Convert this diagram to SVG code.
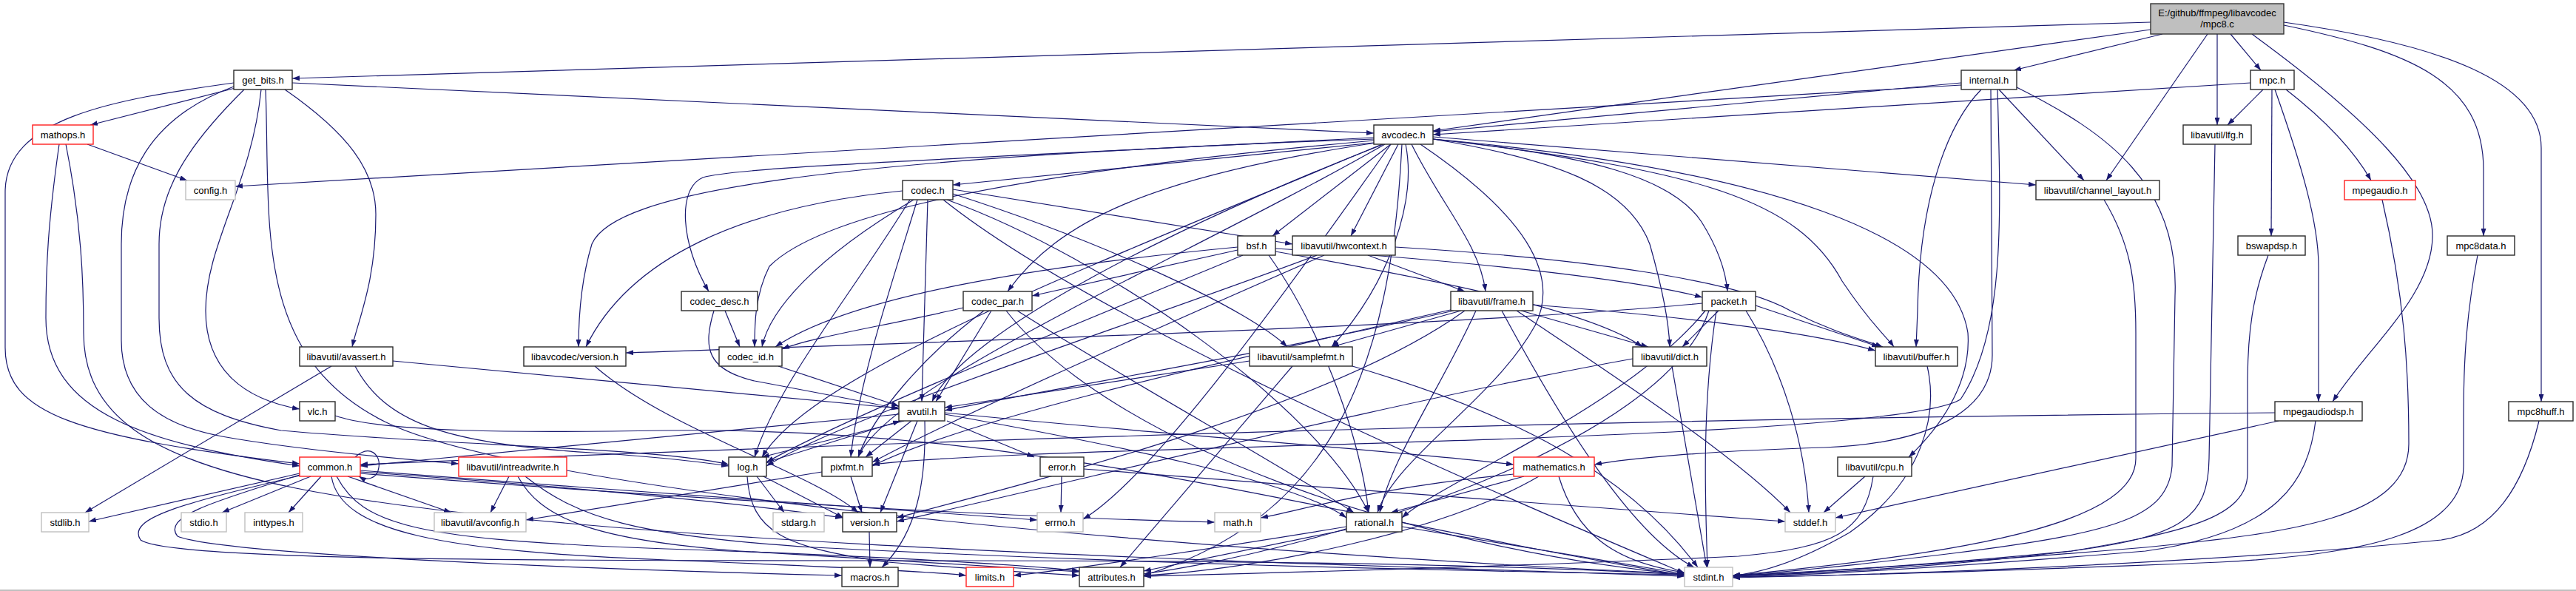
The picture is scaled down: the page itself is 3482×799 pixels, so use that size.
<svg xmlns="http://www.w3.org/2000/svg" width="3482" height="799" viewBox="0 0 3482 799">
<style>
.n rect{fill:#fff;stroke:#2a2a2a;stroke-width:1.4}
.g rect{stroke:#bfbfbf}
.r rect{stroke:#ff2020}
.top rect{fill:#bfbfbf;stroke:#333}
text{font-family:"Liberation Sans",Arial,sans-serif;font-size:13px;text-anchor:middle;fill:#000}
#edges path{fill:none;stroke:#191970;stroke-width:1.2;marker-end:url(#a)}
</style>
<defs>
<marker id="a" viewBox="0 0 10 7" markerWidth="10" markerHeight="7" refX="10" refY="3.5" orient="auto" markerUnits="userSpaceOnUse">
<path d="M0,0 L10,3.5 L0,7 z" fill="#191970"/>
</marker>
</defs>
<rect x="0" y="0" width="3482" height="799" fill="#fff"/>
<rect x="0" y="797" width="3482" height="2" fill="#c0c0c0"/>
<g id="edges">
<path d="M2907,30 L395,106"/>
<path d="M2907,40 L1937,177"/>
<path d="M2923,46 L2722,95"/>
<path d="M2984,46 L2847,244"/>
<path d="M2997,46 L2997,169"/>
<path d="M3015,46 L3056,95"/>
<path d="M3044,46 C3200,160 3290,250 3288,320 C3287,400 3200,470 3153,543"/>
<path d="M3087,34 C3260,70 3357,110 3357,230 L3357,319"/>
<path d="M3087,30 C3300,60 3435,110 3435,200 L3435,543"/>
<path d="M316,112 C150,135 7,160 7,260 L7,470 C7,560 100,590 405,627"/>
<path d="M318,119 L122,169"/>
<path d="M353,121 C340,250 278,330 278,420 C278,500 330,540 405,553"/>
<path d="M385,121 C470,180 508,230 508,290 C508,380 485,430 476,469"/>
<path d="M316,117 C200,160 164,240 164,330 L164,460 C164,540 220,575 300,590 C400,608 560,622 620,627"/>
<path d="M330,121 C250,200 215,260 215,330 L215,430 C215,520 260,560 380,582 C600,602 900,606 985,628"/>
<path d="M359,121 C366,300 340,480 520,570 C700,660 1500,740 2277,776"/>
<path d="M395,112 L1857,180"/>
<path d="M2651,112 L1937,178"/>
<path d="M2651,115 L318,252"/>
<path d="M2702,121 L2817,244"/>
<path d="M2678,121 C2640,160 2595,250 2592,420 L2590,469"/>
<path d="M2726,118 C2850,180 2946,250 2940,400 L2936,630 C2930,700 2860,720 2640,748 C2500,765 2400,775 2342,778"/>
<path d="M2691,121 L2693,480 C2693,560 2600,600 2466,605 C2300,610 2200,620 2155,628"/>
<path d="M2700,121 C2705,300 2710,450 2650,540 C2550,600 1400,600 1179,628"/>
<path d="M3042,112 L1937,182"/>
<path d="M3059,121 L3011,169"/>
<path d="M3071,121 L3070,319"/>
<path d="M3075,121 C3110,220 3134,300 3134,360 L3134,543"/>
<path d="M3090,121 C3140,160 3180,200 3205,244"/>
<path d="M118,195 L253,244"/>
<path d="M80,195 C65,300 62,360 62,430 C62,560 200,600 405,630"/>
<path d="M89,195 C110,300 113,380 113,450 C113,560 200,620 400,660 C800,740 1800,762 2277,779"/>
<path d="M1857,193 L1288,250"/>
<path d="M1857,186 C1300,215 1000,225 950,240 C915,255 920,330 958,394"/>
<path d="M1857,188 C1100,215 830,260 800,330 C785,380 782,430 782,469"/>
<path d="M1857,190 C1300,240 1100,300 1040,360 C1020,400 1020,440 1020,469"/>
<path d="M1870,195 C1600,300 1300,450 1260,543"/>
<path d="M1868,195 C1500,350 1100,500 1030,618"/>
<path d="M1872,195 C1600,350 1200,520 1160,618"/>
<path d="M1900,195 C1915,270 1880,380 1800,469"/>
<path d="M1920,195 C2060,290 2110,370 2075,440 C2020,540 1885,620 1862,693"/>
<path d="M1890,195 L1826,319"/>
<path d="M1908,195 C1950,280 2000,330 2008,394"/>
<path d="M1937,188 C2150,210 2260,240 2300,300 C2325,340 2333,370 2335,394"/>
<path d="M1937,188 C2100,215 2200,250 2230,330 C2250,400 2256,440 2257,469"/>
<path d="M1937,188 C2300,230 2430,270 2490,380 C2530,440 2550,455 2560,469"/>
<path d="M1937,188 C2400,230 2640,320 2660,450 C2665,520 2620,580 2580,618"/>
<path d="M1937,185 L2752,250"/>
<path d="M1880,195 L1720,319"/>
<path d="M1860,193 C1550,240 1430,300 1362,394"/>
<path d="M1895,195 C1880,500 1800,700 1546,778"/>
<path d="M1880,195 C1700,450 1550,650 1464,702"/>
<path d="M2994,195 L2986,620 C2985,700 2950,725 2800,745 C2600,765 2420,775 2342,778"/>
<path d="M1254,270 L1246,543"/>
<path d="M1288,256 L1747,330"/>
<path d="M1230,270 C1150,400 1050,520 1020,618"/>
<path d="M1240,270 C1200,400 1160,520 1150,618"/>
<path d="M1280,270 C1500,350 1780,550 1850,693"/>
<path d="M1288,262 C1500,330 1690,420 1740,469"/>
<path d="M1235,270 C1100,350 1040,420 1030,469"/>
<path d="M1220,258 C1000,280 850,350 792,469"/>
<path d="M1275,270 C1500,450 2100,700 2277,775"/>
<path d="M2844,270 C2880,330 2887,380 2887,450 L2887,620 C2887,700 2700,745 2342,778"/>
<path d="M3220,270 C3250,400 3256,500 3256,600 C3256,700 3100,720 2900,740 C2600,765 2420,775 2342,779"/>
<path d="M1673,338 L1395,400"/>
<path d="M1673,334 C1400,360 1150,400 1048,469"/>
<path d="M1680,345 C1500,420 1150,560 1036,625"/>
<path d="M1715,345 C1790,450 1840,600 1850,693"/>
<path d="M1724,340 C1950,380 2150,420 2220,469"/>
<path d="M1724,336 C1950,350 2200,375 2301,402"/>
<path d="M1849,345 L1980,394"/>
<path d="M1886,334 C2150,350 2350,380 2420,420 C2480,450 2520,460 2545,469"/>
<path d="M1780,345 C1500,450 1150,560 1036,630"/>
<path d="M1790,345 C1550,450 1300,560 1179,625"/>
<path d="M3066,345 C3045,400 3038,450 3038,520 L3038,640 C3038,700 2950,720 2800,745 C2600,770 2420,776 2342,779"/>
<path d="M3349,345 C3335,420 3330,480 3330,560 L3330,630 C3330,720 3200,750 3000,760 C2700,772 2450,779 2342,780"/>
<path d="M980,420 L1000,469"/>
<path d="M965,420 C950,470 955,500 1020,515 C1100,530 1180,545 1215,553"/>
<path d="M1302,416 C1200,440 1100,455 1057,472"/>
<path d="M1340,420 L1265,543"/>
<path d="M1330,420 C1250,480 1180,560 1160,618"/>
<path d="M1375,420 C1500,500 1750,640 1830,693"/>
<path d="M1360,420 C1500,600 1900,740 2277,777"/>
<path d="M2050,420 C2200,520 2350,620 2420,693"/>
<path d="M2030,420 C2100,550 2200,720 2290,767"/>
<path d="M1965,420 C1700,480 1400,530 1277,555"/>
<path d="M2072,412 C2300,430 2450,450 2535,474"/>
<path d="M2056,420 L2228,469"/>
<path d="M1995,420 C1950,520 1880,620 1865,693"/>
<path d="M1975,420 L1800,469"/>
<path d="M1965,418 C1600,500 1300,570 1179,630"/>
<path d="M1980,420 C1800,550 1400,650 1212,700"/>
<path d="M2360,420 C2410,500 2440,600 2445,693"/>
<path d="M2320,420 C2300,550 2305,680 2308,767"/>
<path d="M2310,420 C2250,600 1800,740 1546,776"/>
<path d="M2373,413 L2540,469"/>
<path d="M2323,420 L2274,469"/>
<path d="M2305,420 C2200,550 1950,650 1895,700"/>
<path d="M2301,410 C2000,440 1200,465 846,477"/>
<path d="M448,495 L115,693"/>
<path d="M480,495 C520,570 600,600 800,612 C900,618 950,625 985,630"/>
<path d="M531,488 L1215,552"/>
<path d="M804,495 C900,580 1100,640 1160,693"/>
<path d="M1052,495 L1215,549"/>
<path d="M1689,488 L1277,551"/>
<path d="M1747,495 L1514,767"/>
<path d="M1828,495 C2050,560 2200,640 2295,767"/>
<path d="M2260,495 L2307,767"/>
<path d="M2207,485 C1900,540 1500,640 1212,705"/>
<path d="M2605,495 C2620,560 2600,650 2500,720 C2430,760 2380,775 2342,778"/>
<path d="M453,562 C520,585 700,585 900,582 C1400,575 1800,700 2277,778"/>
<path d="M1215,560 L487,630"/>
<path d="M1280,569 L1398,618"/>
<path d="M1277,560 C1500,600 1750,650 1820,700"/>
<path d="M1240,569 L1190,693"/>
<path d="M1250,569 C1252,650 1240,720 1192,767"/>
<path d="M1277,558 C1600,590 1900,610 2046,628"/>
<path d="M1222,569 L1030,618"/>
<path d="M1232,569 L1170,618"/>
<path d="M1036,625 L1217,569"/>
<path d="M1023,644 L1060,693"/>
<path d="M1030,643 L1140,700"/>
<path d="M1010,644 C1015,720 1060,740 1200,760 C1350,772 1420,776 1459,778"/>
<path d="M1150,644 L1165,693"/>
<path d="M1111,638 L711,703"/>
<path d="M1435,644 L1434,693"/>
<path d="M1465,634 C1800,660 2200,690 2413,705"/>
<path d="M3075,558 C2300,565 1500,585 487,628"/>
<path d="M3080,569 L2481,700"/>
<path d="M3130,569 C3120,650 3080,720 2900,745 C2600,770 2420,778 2342,780"/>
<path d="M3432,569 C3410,660 3370,720 3300,730 C3000,760 2600,776 2342,781"/>
<path d="M480,618 C500,600 515,615 512,632 C510,648 495,650 485,644"/>
<path d="M405,640 L120,705"/>
<path d="M420,644 L300,693"/>
<path d="M434,644 L390,693"/>
<path d="M470,644 L610,693"/>
<path d="M487,636 C800,660 1200,690 1402,703"/>
<path d="M487,640 C1000,680 1400,700 1642,706"/>
<path d="M487,638 C800,660 1000,680 1139,700"/>
<path d="M405,643 C250,680 170,700 190,730 C230,760 800,758 1300,758 C1900,758 2150,770 2277,777"/>
<path d="M405,642 C280,680 220,700 240,725 C300,750 800,770 1138,778"/>
<path d="M448,644 C460,720 600,745 900,757 C1100,765 1250,772 1306,778"/>
<path d="M455,644 C490,710 560,730 900,742 C1200,752 1400,765 1459,772"/>
<path d="M688,644 L663,693"/>
<path d="M700,644 C730,700 800,730 1000,745 C1250,760 1400,768 1459,773"/>
<path d="M710,644 C780,700 860,725 1100,740 C1600,765 2000,772 2277,777"/>
<path d="M2060,644 L1880,693"/>
<path d="M2046,641 C1850,660 1760,690 1704,700"/>
<path d="M2107,644 C2130,720 2180,760 2277,774"/>
<path d="M2080,644 C1950,720 1700,770 1546,778"/>
<path d="M2521,644 L2465,693"/>
<path d="M2532,644 C2520,720 2480,740 2350,752 C2000,768 1700,775 1546,779"/>
<path d="M1820,712 C1650,740 1450,770 1370,778"/>
<path d="M1820,716 L1546,772"/>
<path d="M1895,712 L2277,776"/>
<path d="M1175,719 L1176,767"/>
</g>
<g id="mpc8" class="n top"><rect x="2907" y="5" width="180" height="41"/><text x="2997" y="21.5">E:/github/ffmpeg/libavcodec</text><text x="2997" y="36.5">/mpc8.c</text></g>
<g id="get_bits" class="n"><rect x="316" y="95" width="79" height="26"/><text x="355.5" y="112.5">get_bits.h</text></g>
<g id="internal" class="n"><rect x="2651" y="95" width="75" height="26"/><text x="2688.5" y="112.5">internal.h</text></g>
<g id="mpc" class="n"><rect x="3042" y="95" width="59" height="26"/><text x="3071.5" y="112.5">mpc.h</text></g>
<g id="mathops" class="n r"><rect x="44" y="169" width="82" height="26"/><text x="85" y="186.5">mathops.h</text></g>
<g id="avcodec" class="n"><rect x="1857" y="169" width="80" height="26"/><text x="1897" y="186.5">avcodec.h</text></g>
<g id="lfg" class="n"><rect x="2951" y="169" width="92" height="26"/><text x="2997" y="186.5">libavutil/lfg.h</text></g>
<g id="config" class="n g"><rect x="251" y="244" width="67" height="26"/><text x="284.5" y="261.5">config.h</text></g>
<g id="codec" class="n"><rect x="1220" y="244" width="68" height="26"/><text x="1254" y="261.5">codec.h</text></g>
<g id="channel_layout" class="n"><rect x="2752" y="244" width="167" height="26"/><text x="2835.5" y="261.5">libavutil/channel_layout.h</text></g>
<g id="mpegaudio" class="n r"><rect x="3169" y="244" width="96" height="26"/><text x="3217" y="261.5">mpegaudio.h</text></g>
<g id="bsf" class="n"><rect x="1673" y="319" width="51" height="26"/><text x="1698.5" y="336.5">bsf.h</text></g>
<g id="hwcontext" class="n"><rect x="1747" y="319" width="139" height="26"/><text x="1816.5" y="336.5">libavutil/hwcontext.h</text></g>
<g id="bswapdsp" class="n"><rect x="3025" y="319" width="91" height="26"/><text x="3070.5" y="336.5">bswapdsp.h</text></g>
<g id="mpc8data" class="n"><rect x="3308" y="319" width="91" height="26"/><text x="3353.5" y="336.5">mpc8data.h</text></g>
<g id="codec_desc" class="n"><rect x="921" y="394" width="103" height="26"/><text x="972.5" y="411.5">codec_desc.h</text></g>
<g id="codec_par" class="n"><rect x="1302" y="394" width="93" height="26"/><text x="1348.5" y="411.5">codec_par.h</text></g>
<g id="frame" class="n"><rect x="1961" y="394" width="111" height="26"/><text x="2016.5" y="411.5">libavutil/frame.h</text></g>
<g id="packet" class="n"><rect x="2301" y="394" width="72" height="26"/><text x="2337" y="411.5">packet.h</text></g>
<g id="avassert" class="n"><rect x="405" y="469" width="126" height="26"/><text x="468" y="486.5">libavutil/avassert.h</text></g>
<g id="lavc_version" class="n"><rect x="708" y="469" width="138" height="26"/><text x="777" y="486.5">libavcodec/version.h</text></g>
<g id="codec_id" class="n"><rect x="972" y="469" width="85" height="26"/><text x="1014.5" y="486.5">codec_id.h</text></g>
<g id="samplefmt" class="n"><rect x="1689" y="469" width="139" height="26"/><text x="1758.5" y="486.5">libavutil/samplefmt.h</text></g>
<g id="dict" class="n"><rect x="2207" y="469" width="100" height="26"/><text x="2257" y="486.5">libavutil/dict.h</text></g>
<g id="buffer" class="n"><rect x="2535" y="469" width="111" height="26"/><text x="2590.5" y="486.5">libavutil/buffer.h</text></g>
<g id="vlc" class="n"><rect x="405" y="543" width="48" height="26"/><text x="429" y="560.5">vlc.h</text></g>
<g id="avutil" class="n"><rect x="1215" y="543" width="62" height="26"/><text x="1246" y="560.5">avutil.h</text></g>
<g id="mpegaudiodsp" class="n"><rect x="3075" y="543" width="118" height="26"/><text x="3134" y="560.5">mpegaudiodsp.h</text></g>
<g id="mpc8huff" class="n"><rect x="3391" y="543" width="87" height="26"/><text x="3434.5" y="560.5">mpc8huff.h</text></g>
<g id="common" class="n r"><rect x="405" y="618" width="82" height="26"/><text x="446" y="635.5">common.h</text></g>
<g id="intreadwrite" class="n r"><rect x="620" y="618" width="146" height="26"/><text x="693" y="635.5">libavutil/intreadwrite.h</text></g>
<g id="log" class="n"><rect x="985" y="618" width="51" height="26"/><text x="1010.5" y="635.5">log.h</text></g>
<g id="pixfmt" class="n"><rect x="1111" y="618" width="68" height="26"/><text x="1145" y="635.5">pixfmt.h</text></g>
<g id="error" class="n"><rect x="1406" y="618" width="59" height="26"/><text x="1435.5" y="635.5">error.h</text></g>
<g id="mathematics" class="n r"><rect x="2046" y="618" width="109" height="26"/><text x="2100.5" y="635.5">mathematics.h</text></g>
<g id="cpu" class="n"><rect x="2484" y="618" width="100" height="26"/><text x="2534" y="635.5">libavutil/cpu.h</text></g>
<g id="stdlib" class="n g"><rect x="56" y="693" width="64" height="26"/><text x="88" y="710.5">stdlib.h</text></g>
<g id="stdio" class="n g"><rect x="245" y="693" width="61" height="26"/><text x="275.5" y="710.5">stdio.h</text></g>
<g id="inttypes" class="n g"><rect x="331" y="693" width="78" height="26"/><text x="370" y="710.5">inttypes.h</text></g>
<g id="avconfig" class="n g"><rect x="587" y="693" width="124" height="26"/><text x="649" y="710.5">libavutil/avconfig.h</text></g>
<g id="stdarg" class="n g"><rect x="1045" y="693" width="69" height="26"/><text x="1079.5" y="710.5">stdarg.h</text></g>
<g id="version" class="n"><rect x="1139" y="693" width="73" height="26"/><text x="1175.5" y="710.5">version.h</text></g>
<g id="errno" class="n g"><rect x="1402" y="693" width="62" height="26"/><text x="1433" y="710.5">errno.h</text></g>
<g id="math" class="n g"><rect x="1642" y="693" width="62" height="26"/><text x="1673" y="710.5">math.h</text></g>
<g id="rational" class="n"><rect x="1820" y="693" width="75" height="26"/><text x="1857.5" y="710.5">rational.h</text></g>
<g id="stddef" class="n g"><rect x="2413" y="693" width="68" height="26"/><text x="2447" y="710.5">stddef.h</text></g>
<g id="macros" class="n"><rect x="1138" y="767" width="76" height="26"/><text x="1176" y="784.5">macros.h</text></g>
<g id="limits" class="n r"><rect x="1306" y="767" width="64" height="26"/><text x="1338" y="784.5">limits.h</text></g>
<g id="attributes" class="n"><rect x="1459" y="767" width="87" height="26"/><text x="1502.5" y="784.5">attributes.h</text></g>
<g id="stdint" class="n g"><rect x="2277" y="767" width="65" height="26"/><text x="2309.5" y="784.5">stdint.h</text></g>
</svg>
